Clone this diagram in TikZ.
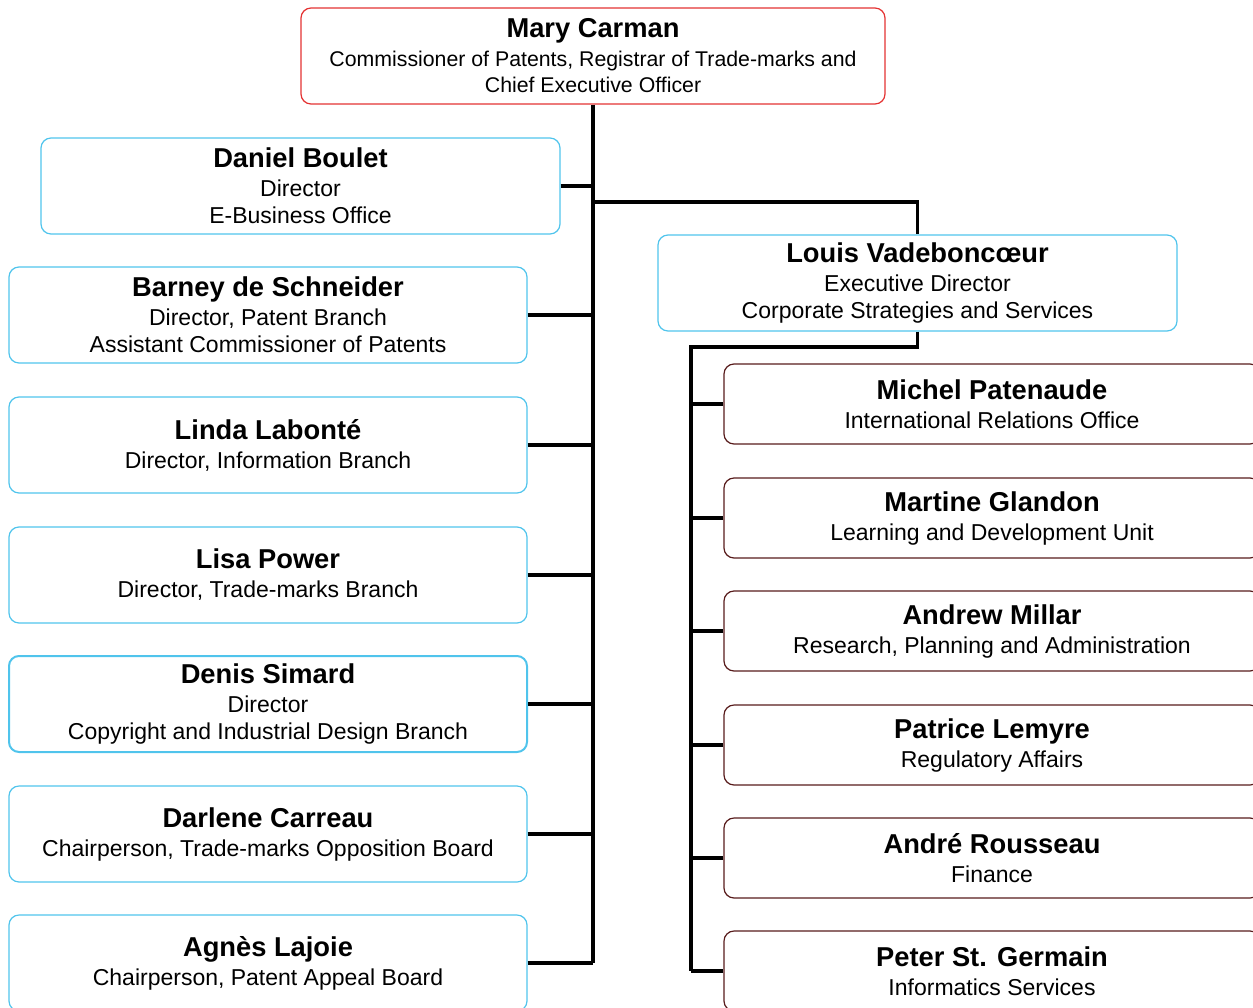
\documentclass[tikz,border=0pt]{standalone}
\usepackage{fontspec}
\setmainfont{Liberation Sans}

\definecolor{ceored}{RGB}{228,50,50}
\definecolor{dirblue}{RGB}{80,196,236}
\definecolor{unitbrown}{RGB}{88,28,28}

\newcommand{\pname}[1]{{\fontsize{27.3}{30}\selectfont\bfseries #1}}

\tikzset{
  box/.style={draw, rounded corners=10pt, line width=1.2pt, align=center,
    inner sep=0pt, font=\fontsize{23}{27}\selectfont},
  leftbox/.style={box, draw=dirblue, minimum width=518pt, minimum height=96pt},
  unitbox/.style={box, draw=unitbrown, minimum width=536pt, minimum height=80pt},
  link/.style={line width=3.2pt}
}

\begin{document}
\begin{tikzpicture}[x=1pt, y=-1pt]
  \useasboundingbox (0,0) rectangle (1253,1007);

  % head of office
  \node[box, draw=ceored, minimum width=584pt, minimum height=96pt,
    font=\fontsize{21.3}{26.5}\selectfont] (mc) at (593,56)
    {\pname{Mary Carman}\\[2pt]Commissioner of Patents, Registrar of Trade-marks and\\Chief Executive Officer};

  % directors on the left
  \node[leftbox, minimum width=519pt] (db) at (300.5,186)
    {\pname{Daniel Boulet}\\[2pt]Director\\E-Business Office};
  \node[leftbox] (bs) at (268,315)
    {\pname{Barney de Schneider}\\[2pt]Director, Patent Branch\\Assistant Commissioner of Patents};
  \node[leftbox] (ll) at (268,445)
    {\pname{Linda Labonté}\\[2pt]Director, Information Branch};
  \node[leftbox] (lp) at (268,575)
    {\pname{Lisa Power}\\[2pt]Director, Trade-marks Branch};
  \node[leftbox, line width=2pt] (ds) at (268,704)
    {\pname{Denis Simard}\\[2pt]Director\\Copyright and Industrial Design Branch};
  \node[leftbox] (dc) at (268,834)
    {\pname{Darlene Carreau}\\[2pt]Chairperson, Trade-marks Opposition Board};
  \node[leftbox] (al) at (268,963)
    {\pname{Agnès Lajoie}\\[2pt]Chairperson, Patent Appeal Board};

  % corporate strategies
  \node[leftbox, minimum width=519pt] (lv) at (917.5,283)
    {\pname{Louis Vadeboncœur}\\[2pt]Executive Director\\Corporate Strategies and Services};

  \node[unitbox] (mp) at (992,404)
    {\pname{Michel Patenaude}\\[2pt]International Relations Office};
  \node[unitbox] (mg) at (992,518)
    {\pname{Martine Glandon}\\[2pt]Learning and Development Unit};
  \node[unitbox] (am) at (992,631)
    {\pname{Andrew Millar}\\[2pt]Research, Planning and Administration};
  \node[unitbox] (pl) at (992,745)
    {\pname{Patrice Lemyre}\\[2pt]Regulatory Affairs};
  \node[unitbox] (ar) at (992,858)
    {\pname{André Rousseau}\\[2pt]Finance};
  \node[unitbox] (pg) at (992,971)
    {\pname{Peter St. Germain}\\[2pt]Informatics Services};

  % connectors
  \coordinate (fork) at (593,202);
  \coordinate (rfork) at (691,347);
  \draw[link] (mc.south) -- (mc.south |- al.east);
  \foreach \n in {db,bs,ll,lp,ds,dc,al}
    \draw[link] (\n.east) -- (\n.east -| mc.south);
  \draw[link] (fork) -| (lv.north);
  \draw[link] (lv.south) |- (rfork) -- (rfork |- pg.west);
  \foreach \n in {mp,mg,am,pl,ar,pg}
    \draw[link] (\n.west) -- (\n.west -| rfork);
\end{tikzpicture}
\end{document}
